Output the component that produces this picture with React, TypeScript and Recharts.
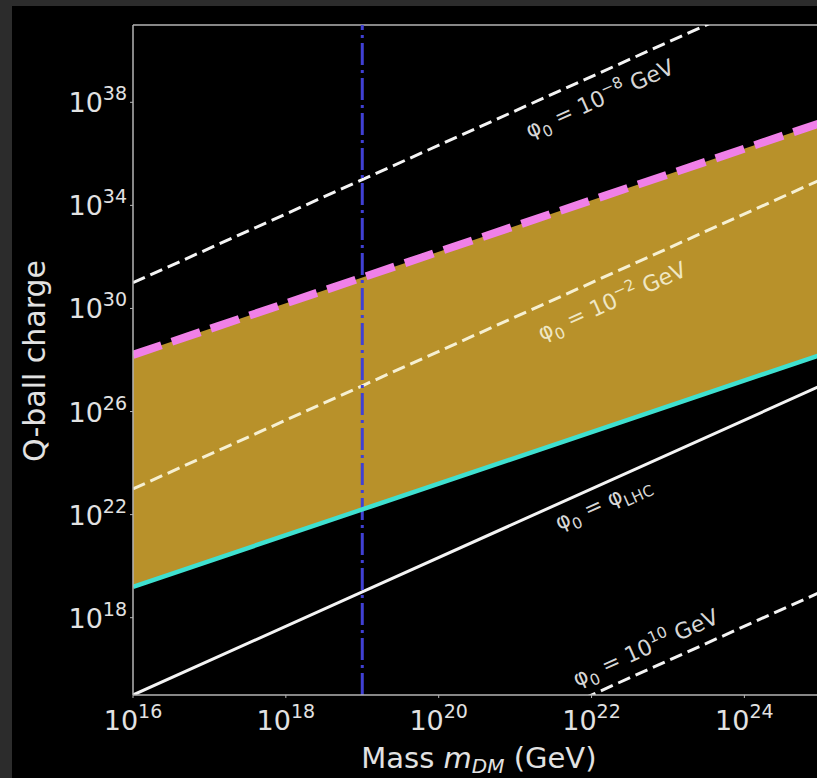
import React from 'react';
import { ComposedChart, Line, Area, XAxis, YAxis, ReferenceLine, ReferenceDot, Label } from 'recharts';

// log10 of dark-matter mass (GeV)
const massExponents = [16, 19, 25];
// log10 of Q-ball charge for each curve at those masses
const upperBoundExp = [28.2, 31.2, 37.2];
const lowerBoundExp = [19.2, 22.2, 28.2];
const phiMinus8Exp = [31, 35, 43];
const phiMinus2Exp = [23, 27, 35];
const phiLhcExp = [15, 19, 27];
const phiPlus10Exp = [7, 11, 19];

const xTickExps = [16, 18, 20, 22, 24];
const yTickExps = [18, 22, 26, 30, 34, 38];
const xDomain = [16, 25];
const yDomain = [15, 41];
const markerMassExp = 19;

type Seg = { t: string; k: 'n' | 'sub' | 'sup' };
const labelDefs: { m: number; q: number; color: string; segs: Seg[] }[] = [
  { m: 22.11, q: 38.13, color: '#d6d6d6', segs: [{ t: 'φ', k: 'n' }, { t: '0', k: 'sub' }, { t: ' = 10', k: 'n' }, { t: '−8', k: 'sup' }, { t: ' GeV', k: 'n' }] },
  { m: 22.27, q: 30.27, color: '#efe7c4', segs: [{ t: 'φ', k: 'n' }, { t: '0', k: 'sub' }, { t: ' = 10', k: 'n' }, { t: '−2', k: 'sup' }, { t: ' GeV', k: 'n' }] },
  { m: 22.15, q: 22.45, color: '#d6d6d6', segs: [{ t: 'φ', k: 'n' }, { t: '0', k: 'sub' }, { t: ' = φ', k: 'n' }, { t: 'LHC', k: 'sub' }] },
  { m: 22.71, q: 16.82, color: '#d6d6d6', segs: [{ t: 'φ', k: 'n' }, { t: '0', k: 'sub' }, { t: ' = 10', k: 'n' }, { t: '10', k: 'sup' }, { t: ' GeV', k: 'n' }] },
];

const data = massExponents.map((m, i) => ({
  m,
  band: [lowerBoundExp[i], upperBoundExp[i]],
  upper: upperBoundExp[i],
  lower: lowerBoundExp[i],
  p8: phiMinus8Exp[i],
  p2: phiMinus2Exp[i],
  lhc: phiLhcExp[i],
  p10: phiPlus10Exp[i],
}));

const FONT = '"DejaVu Sans", sans-serif';
const AXIS = '#b4b4b4';
const TXT = '#e2e2e2';

const renderSegs = (segs: Seg[], size: number) => {
  let cur = 0;
  return segs.map((s, i) => {
    const target = s.k === 'sub' ? size * 0.28 : s.k === 'sup' ? -size * 0.42 : 0;
    const dy = target - cur;
    cur = target;
    return (
      <tspan key={i} dy={dy} fontSize={s.k === 'n' ? size : size * 0.7}>
        {s.t}
      </tspan>
    );
  });
};

const XTick = (props: any) => {
  const { x, y, payload } = props;
  return (
    <text x={x} y={y + 30} textAnchor="middle" fill={TXT} fontFamily={FONT} fontSize={27}>
      <tspan>10</tspan>
      <tspan dy={-12} fontSize={19}>{payload.value}</tspan>
    </text>
  );
};

const YTick = (props: any) => {
  const { x, y, payload } = props;
  return (
    <text x={x - 1} y={y + 10} textAnchor="end" fill={TXT} fontFamily={FONT} fontSize={27}>
      <tspan>10</tspan>
      <tspan dy={-12} fontSize={19}>{payload.value}</tspan>
    </text>
  );
};

const LineLabel = (def: { color: string; segs: Seg[] }) => (p: any) => {
  const { cx, cy } = p;
  return (
    <text
      x={cx}
      y={cy + 7}
      transform={`rotate(-24.2, ${cx}, ${cy})`}
      textAnchor="middle"
      fill={def.color}
      fontFamily={FONT}
      fontSize={22}
    >
      {renderSegs(def.segs, 22)}
    </text>
  );
};

export default function App() {
  return (
    <div style={{ position: 'absolute', left: 0, top: 0, width: 817, height: 778, overflow: 'hidden', background: '#000' }}>
      <ComposedChart
        width={840}
        height={778}
        data={data}
        margin={{ top: 25, right: 19.2, bottom: 23, left: 13 }}
        style={{ background: '#000' }}
      >
        <XAxis
          dataKey="m"
          type="number"
          domain={xDomain}
          ticks={xTickExps}
          allowDataOverflow
          height={60}
          axisLine={{ stroke: AXIS, strokeWidth: 1.5 }}
          tickLine={{ stroke: AXIS }}
          tickSize={3}
          tick={<XTick />}
        >
          <Label
            content={(p: any) => {
              const vb = p.viewBox;
              return (
                <text x={vb.x + vb.width / 2 + 2} y={vb.y + 73} textAnchor="middle" fill={TXT} fontFamily={FONT} fontSize={29}>
                  <tspan>Mass </tspan>
                  <tspan fontStyle="italic">m</tspan>
                  <tspan fontStyle="italic" fontSize={20} dy={5}>DM</tspan>
                  <tspan dy={-5}> (GeV)</tspan>
                </text>
              );
            }}
          />
        </XAxis>
        <YAxis
          type="number"
          domain={yDomain}
          ticks={yTickExps}
          allowDataOverflow
          width={120}
          axisLine={{ stroke: AXIS, strokeWidth: 1.5 }}
          tickLine={{ stroke: AXIS }}
          tickSize={3}
          tick={<YTick />}
        >
          <Label
            content={(p: any) => {
              const vb = p.viewBox;
              const cx = vb.x + 32;
              const cy = vb.y + vb.height / 2 + 1;
              return (
                <text x={cx} y={cy} transform={`rotate(-90, ${cx}, ${cy})`} textAnchor="middle" fill={TXT} fontFamily={FONT} fontSize={30}>
                  Q-ball charge
                </text>
              );
            }}
          />
        </YAxis>
        <ReferenceLine y={yDomain[1]} stroke={AXIS} strokeWidth={1.5} />
        <Area dataKey="band" type="linear" fill="#b8912a" fillOpacity={1} stroke="none" isAnimationActive={false} />
        <Line dataKey="p2" type="linear" stroke="#f6f0d2" strokeWidth={3} strokeDasharray="13 6" dot={false} isAnimationActive={false} />
        <Line dataKey="p8" type="linear" stroke="#f4f4f4" strokeWidth={3} strokeDasharray="13 6" dot={false} isAnimationActive={false} />
        <Line dataKey="p10" type="linear" stroke="#f4f4f4" strokeWidth={3} strokeDasharray="13 6" dot={false} isAnimationActive={false} />
        <Line dataKey="lhc" type="linear" stroke="#f4f4f4" strokeWidth={3} dot={false} isAnimationActive={false} />
        <ReferenceLine x={markerMassExp} stroke="#4040d4" strokeWidth={3} strokeDasharray="22 5 3 5" />
        <Line dataKey="lower" type="linear" stroke="#3fe0d0" strokeWidth={4.5} dot={false} isAnimationActive={false} />
        <Line dataKey="upper" type="linear" stroke="#f080e8" strokeWidth={8} strokeDasharray="30 11" dot={false} isAnimationActive={false} />
        {labelDefs.map((d, i) => (
          <ReferenceDot key={i} x={d.m} y={d.q} r={0} ifOverflow="visible" shape={LineLabel(d)} />
        ))}
      </ComposedChart>
      <div style={{ position: 'absolute', left: 0, top: 0, width: 817, height: 6, background: '#2c2c2c' }} />
      <div style={{ position: 'absolute', left: 0, top: 0, width: 12, height: 778, background: '#2c2c2c' }} />
    </div>
  );
}
